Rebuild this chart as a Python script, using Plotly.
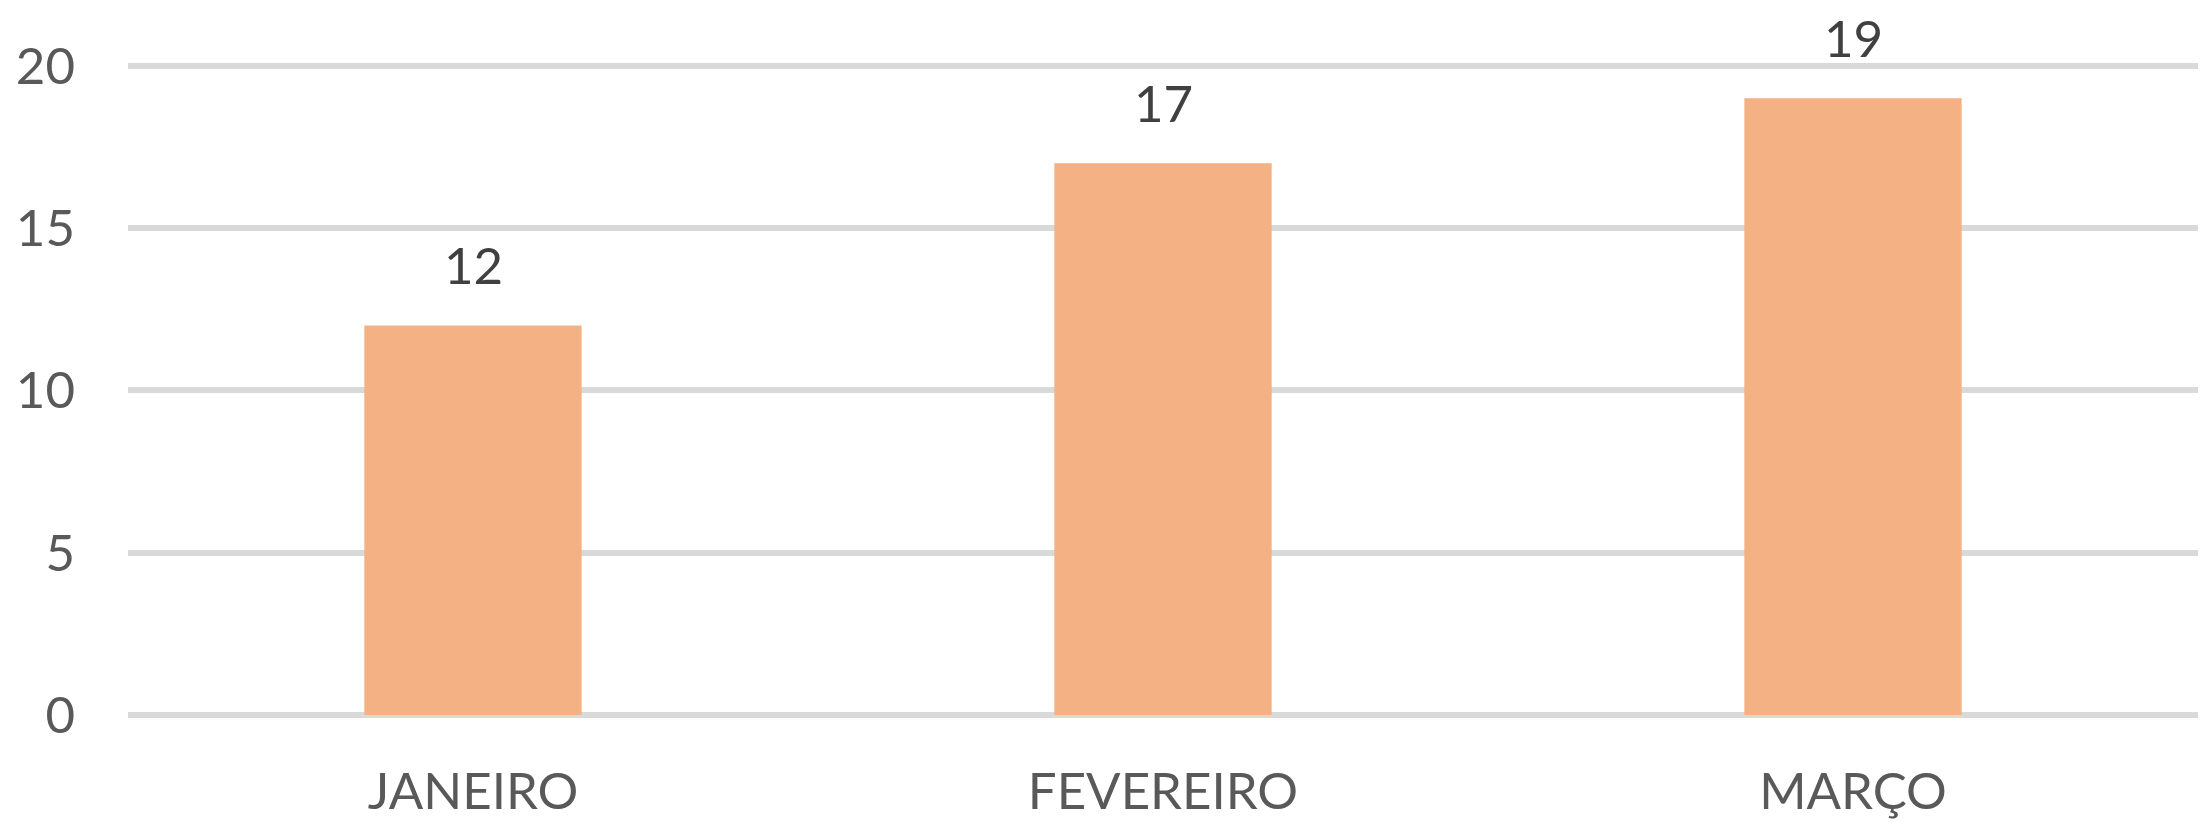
import plotly.graph_objects as go

categories = ["JANEIRO", "FEVEREIRO", "MARÇO"]
values = [12, 17, 19]
y_ticks = [0, 5, 10, 15, 20]

FONT = "Lato, 'Open Sans', sans-serif"
FS = 51

fig = go.Figure()
fig.add_trace(go.Bar(
    x=categories, y=values,
    marker=dict(color="#F4B183", line=dict(width=0)),
    hoverinfo="skip",
))

for c, v in zip(categories, values):
    fig.add_annotation(
        x=c, y=v, text=str(v), showarrow=False,
        xanchor="center", yanchor="bottom", yshift=28,
        font=dict(family=FONT, size=FS, color="#404040"),
    )

fig.update_layout(
    width=2198, height=814,
    margin=dict(l=120, r=8, t=48, b=107, autoexpand=False),
    paper_bgcolor="white", plot_bgcolor="white",
    bargap=0.685,
    showlegend=False,
    font=dict(family=FONT, size=FS, color="#595959"),
)
fig.update_xaxes(
    showgrid=False, showline=False, ticks="", automargin=False,
    tickfont=dict(family=FONT, size=FS, color="#595959"),
    ticklabelstandoff=42,
)
fig.update_yaxes(
    range=[0, 20.3], tickvals=y_ticks, automargin=False,
    showgrid=True, gridcolor="#D9D9D9", gridwidth=6,
    zeroline=True, zerolinecolor="#D9D9D9", zerolinewidth=6,
    showline=False, ticks="",
    tickfont=dict(family=FONT, size=FS, color="#595959"),
    ticklabelstandoff=52,
)

fig.write_html("out.html")
